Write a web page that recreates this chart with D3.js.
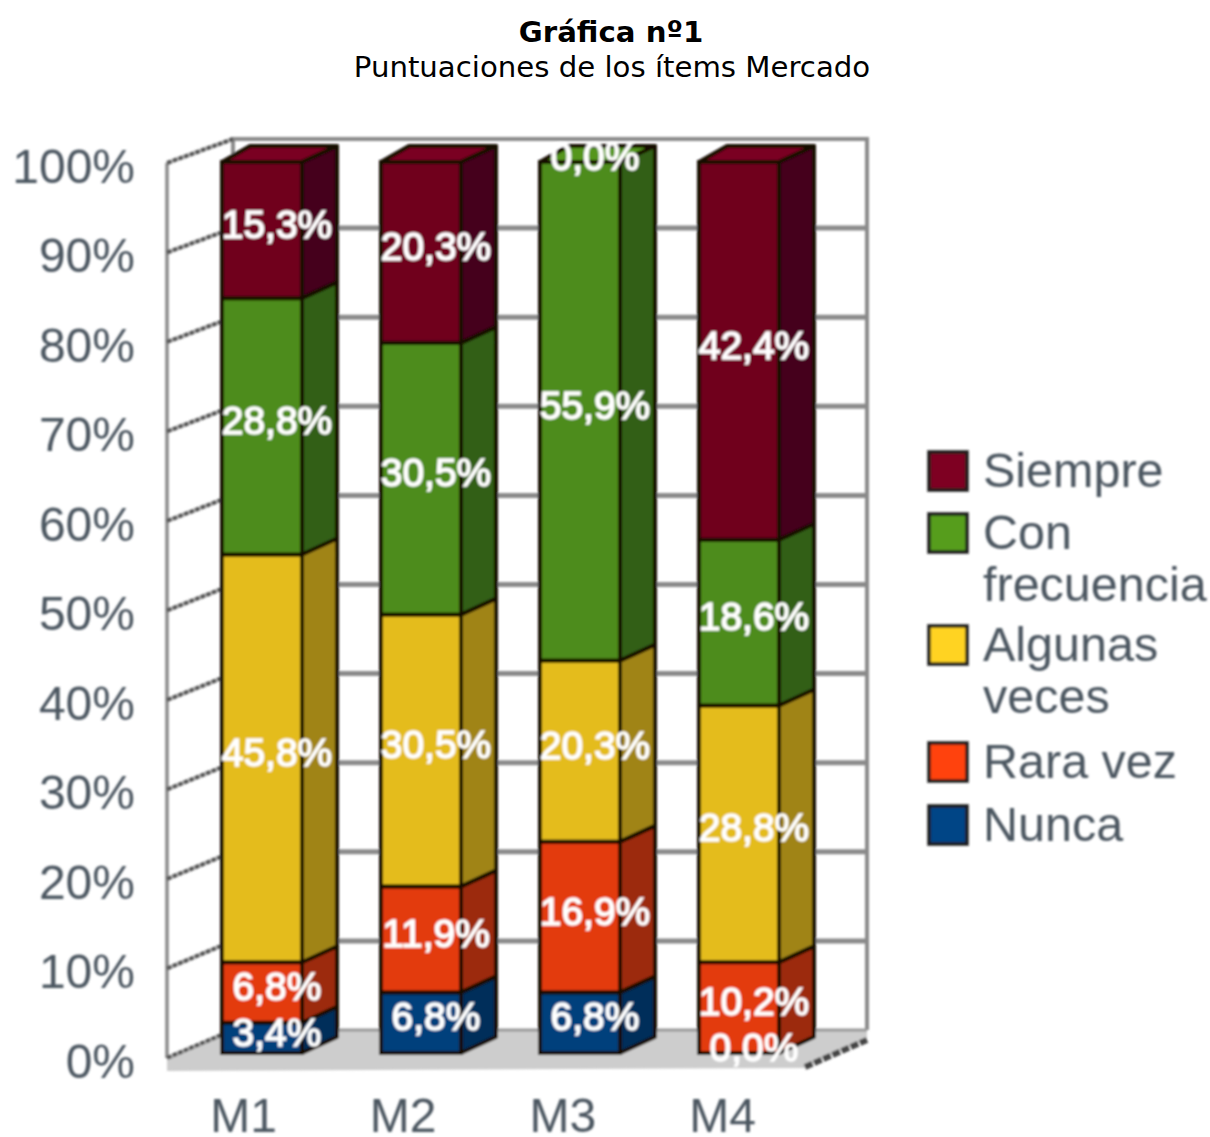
<!DOCTYPE html>
<html>
<head>
<meta charset="utf-8">
<script src="https://d3js.org/d3.v7.min.js"></script>
<style>
  html, body { margin: 0; padding: 0; background: #fff; }
  svg { display: block; }
  .title { font-family: "DejaVu Sans", sans-serif; font-size: 29.2px; fill: #000; text-anchor: middle; }
  .chart text { font-family: "Liberation Sans", sans-serif; }
</style>
</head>
<body>
<svg id="chart" width="1210" height="1137"></svg>
<script>
const categories = ["M1", "M2", "M3", "M4"];
const seriesNames = ["Nunca", "Rara vez", "Algunas veces", "Con frecuencia", "Siempre"];

const nunca = [3.4, 6.8, 6.8, 0.0];
const raraVez = [6.8, 11.9, 16.9, 10.2];
const algunasVeces = [45.8, 30.5, 20.3, 28.8];
const conFrecuencia = [28.8, 30.5, 55.9, 18.6];
const siempre = [15.3, 20.3, 0.0, 42.4];

const yTicks = [0, 10, 20, 30, 40, 50, 60, 70, 80, 90, 100];
const legendOrder = [["Siempre"], ["Con", "frecuencia"], ["Algunas", "veces"], ["Rara vez"], ["Nunca"]];

const frontColors = ["#03417c", "#e33a0c", "#e4bc1c", "#4e8c1a", "#6f001f"];
const sideColors = ["#022f5a", "#9c2a08", "#a08414", "#335f12", "#45001a"];
const topColors = ["#03417c", "#e33a0c", "#e4bc1c", "#54961c", "#7a0022"];
const legendColors = ["#7e0021", "#579d1c", "#ffd320", "#ff420e", "#004586"];

const depthX = 35;
const depthY = 16;
const textColor = "#4c5661";

const svg = d3.select("#chart");

// title
svg.append("text").attr("class", "title").attr("x", 611).attr("y", 42)
    .style("font-weight", "bold").text("Gráfica nº1");
svg.append("text").attr("class", "title").attr("x", 612).attr("y", 77)
    .text("Puntuaciones de los ítems Mercado");

const defs = svg.append("defs");
defs.append("filter").attr("id", "soft").attr("x", "-5%").attr("y", "-5%")
    .attr("width", "110%").attr("height", "110%")
    .append("feGaussianBlur").attr("stdDeviation", 1);

const chart = svg.append("g").attr("class", "chart").attr("filter", "url(#soft)");

const x = d3.scaleBand().domain(categories).range([222, 779]).paddingInner(0.497).paddingOuter(0);
const y = d3.scaleLinear().domain([0, 100]).range([1053, 162]);
const yWallFront = d3.scaleLinear().domain([0, 100]).range([1058, 163]);
const yWallBack = d3.scaleLinear().domain([0, 100]).range([1030, 139]);

const wallLeft = 167;
const wallBack = 233;
const wallRight = 867;
const floorFront = 805;

const line = d3.line();

// floor
chart.append("path")
    .attr("d", line([[wallLeft, yWallFront(0)], [wallBack, yWallBack(0)], [wallRight, yWallBack(0)],
        [wallRight, yWallBack(0) + 10], [floorFront, yWallFront(0) + 10], [wallLeft, yWallFront(0) + 13]]) + "Z")
    .attr("fill", "#cdcdcd");
chart.append("path")
    .attr("d", line([[floorFront, yWallFront(0) + 9], [wallRight, yWallBack(0) + 10]]))
    .attr("stroke", "#444").attr("stroke-width", 6).attr("stroke-dasharray", "8 2").attr("fill", "none");

// walls
chart.append("path")
    .attr("d", line([[wallBack, yWallBack(0)], [wallBack, yWallBack(100)], [wallRight, yWallBack(100)], [wallRight, yWallBack(0)]]))
    .attr("stroke", "#8a8a8a").attr("stroke-width", 4).attr("fill", "none");
chart.append("path")
    .attr("d", line([[wallLeft, yWallFront(0)], [wallLeft, yWallFront(100)]]))
    .attr("stroke", "#8a8a8a").attr("stroke-width", 3.5).attr("fill", "none");

// gridlines
chart.selectAll(".grid-back").data(yTicks.slice(1, -1)).enter().append("line")
    .attr("class", "grid-back")
    .attr("x1", wallBack).attr("x2", wallRight)
    .attr("y1", d => yWallBack(d)).attr("y2", d => yWallBack(d))
    .attr("stroke", "#8a8a8a").attr("stroke-width", 5);
chart.selectAll(".grid-back-0").data([0]).enter().append("line")
    .attr("class", "grid-back-0")
    .attr("x1", wallBack).attr("x2", wallRight)
    .attr("y1", d => yWallBack(d)).attr("y2", d => yWallBack(d))
    .attr("stroke", "#999").attr("stroke-width", 3);
chart.selectAll(".grid-side").data(yTicks).enter().append("line")
    .attr("class", "grid-side")
    .attr("x1", wallLeft).attr("x2", wallBack)
    .attr("y1", d => yWallFront(d)).attr("y2", d => yWallBack(d))
    .attr("stroke", "#555").attr("stroke-width", 4).attr("stroke-dasharray", "5 1");

// stacked 3d bars
const rows = categories.map((c, i) => ({
    cat: c,
    "Nunca": nunca[i],
    "Rara vez": raraVez[i],
    "Algunas veces": algunasVeces[i],
    "Con frecuencia": conFrecuencia[i],
    "Siempre": siempre[i]
}));
const stacked = d3.stack().keys(seriesNames).offset(d3.stackOffsetExpand)(rows);
const w = x.bandwidth();
const outline = "#140a05";

stacked.forEach((layer, s) => {
    const g = chart.append("g").attr("class", "series");
    layer.filter(d => d[1] - d[0] > 0).forEach(d => {
        const x0 = x(d.data.cat);
        const y0 = y(d[0] * 100);
        const y1 = y(d[1] * 100);
        // top
        g.append("path")
            .attr("d", line([[x0, y1], [x0 + depthX - 7, y1 - depthY], [x0 + w + depthX, y1 - depthY], [x0 + w, y1]]) + "Z")
            .attr("fill", topColors[s]).attr("stroke", outline).attr("stroke-width", 4).attr("stroke-linejoin", "round");
        // side
        g.append("path")
            .attr("d", line([[x0 + w, y0], [x0 + w + depthX, y0 - depthY], [x0 + w + depthX, y1 - depthY], [x0 + w, y1]]) + "Z")
            .attr("fill", sideColors[s]).attr("stroke", outline).attr("stroke-width", 4).attr("stroke-linejoin", "round");
        // front
        g.append("rect")
            .attr("x", x0).attr("y", y1).attr("width", w).attr("height", y0 - y1)
            .attr("fill", frontColors[s]).attr("stroke", outline).attr("stroke-width", 4);
    });
});

// value labels, zero ones included
stacked.forEach(layer => {
    chart.append("g").selectAll("text").data(layer).enter().append("text")
        .attr("x", d => x(d.data.cat) + 55)
        .attr("y", d => (y(d[0] * 100) + y(d[1] * 100)) / 2 - 6)
        .attr("dy", "0.35em")
        .attr("text-anchor", "middle")
        .attr("font-size", 39)
        .attr("fill", "#fff")
        .attr("stroke", "#fff")
        .attr("stroke-width", 1.4)
        .text(d => d.data[layer.key].toFixed(1).replace(".", ",") + "%");
});

// axes
const yAxis = d3.axisLeft(d3.scaleLinear().domain([0, 100]).range([1062, 167]))
    .tickValues(yTicks).tickSize(0).tickPadding(0).tickFormat(d => d + "%");
const yAxisG = chart.append("g").attr("transform", "translate(135,0)").call(yAxis);
yAxisG.select(".domain").remove();
yAxisG.selectAll("text").attr("font-size", 48).attr("fill", textColor).attr("font-family", null);

const xAxis = d3.axisBottom(d3.scalePoint().domain(categories).range([243, 722]))
    .tickSize(0).tickPadding(0);
const xAxisG = chart.append("g").attr("transform", "translate(0,1098)").call(xAxis);
xAxisG.select(".domain").remove();
xAxisG.selectAll("text").attr("font-size", 48).attr("fill", textColor).attr("font-family", null);

// legend
const legendY = d3.scaleOrdinal().domain(legendOrder.map(d => d[0])).range([452, 514, 626, 743, 806]);
const legend = chart.append("g").attr("class", "legend");
legendOrder.forEach((lines, i) => {
    const top = legendY(lines[0]);
    legend.append("rect").attr("x", 929).attr("y", top).attr("width", 38).attr("height", 38)
        .attr("fill", legendColors[i]).attr("stroke", "#1a1a1a").attr("stroke-width", 3.5);
    lines.forEach((t, j) => {
        legend.append("text").attr("x", 983).attr("y", top + 35 + j * 52)
            .attr("font-size", 48.5).attr("fill", textColor).text(t);
    });
});
</script>
</body>
</html>
